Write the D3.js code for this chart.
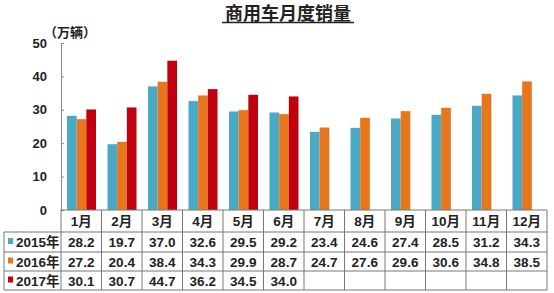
<!DOCTYPE html>
<html>
<head>
<meta charset="utf-8">
<script src="https://cdn.jsdelivr.net/npm/d3@7"></script>
<style>
  body { margin: 0; background: #fff; }
  svg { display: block; font-family: "Liberation Sans", Arial, "Noto Sans CJK SC", sans-serif; }
</style>
</head>
<body>
<div id="chart"></div>
<script>
var months = ['1月', '2月', '3月', '4月', '5月', '6月', '7月', '8月', '9月', '10月', '11月', '12月'];
var seriesNames = ['2015年', '2016年', '2017年'];
var colors = ['#4aa9c5', '#e8761c', '#c0000e'];
var v2015 = [28.2, 19.7, 37.0, 32.6, 29.5, 29.2, 23.4, 24.6, 27.4, 28.5, 31.2, 34.3];
var v2016 = [27.2, 20.4, 38.4, 34.3, 29.9, 28.7, 24.7, 27.6, 29.6, 30.6, 34.8, 38.5];
var v2017 = [30.1, 30.7, 44.7, 36.2, 34.5, 34.0];
var yTicks = [0, 10, 20, 30, 40, 50];

var series = [v2015, v2016, v2017];
var width = 554, height = 293;
var plotLeft = 61, plotRight = 547, plotTop = 43, base = 210;
var rowY = [210, 232, 252, 271, 290];

var svg = d3.select('#chart').append('svg')
    .attr('width', width)
    .attr('height', height);

var x0 = d3.scaleBand().domain(months).range([plotLeft, plotRight]).padding(0);
var x1 = d3.scaleBand().domain([0, 1, 2]).range([6, 35]).padding(0);
var y = d3.scaleLinear().domain([0, 50]).range([base, plotTop]);

// title
svg.append('text')
    .attr('x', 288).attr('y', 20)
    .attr('text-anchor', 'middle')
    .attr('font-family', '"Noto Sans CJK SC", sans-serif')
    .attr('font-size', 18).attr('font-weight', 'bold')
    .attr('fill', '#222')
    .text('商用车月度销量');
svg.append('line')
    .attr('x1', 222).attr('x2', 354).attr('y1', 22.5).attr('y2', 22.5)
    .attr('stroke', '#222').attr('stroke-width', 1.6);

svg.append('text')
    .attr('x', 44).attr('y', 37)
    .attr('font-family', '"Noto Sans CJK SC", sans-serif')
    .attr('font-size', 13).attr('font-weight', 'bold')
    .attr('fill', '#222')
    .text('（万辆）');

// y axis
var yAxis = d3.axisLeft(y).tickValues(yTicks).tickSize(-3).tickPadding(14);
var ya = svg.append('g').attr('transform', 'translate(' + plotLeft + ',0)').call(yAxis);
ya.select('.domain').attr('stroke', '#888');
ya.selectAll('.tick line').attr('stroke', '#888');
ya.selectAll('.tick text')
    .attr('font-size', 13).attr('font-weight', 'bold')
    .attr('fill', '#222')
    .attr('font-family', '"Liberation Sans", Arial, sans-serif');

// bars
var groups = svg.append('g').selectAll('g')
    .data(months)
    .enter().append('g')
    .attr('transform', function(d) { return 'translate(' + x0(d) + ',0)'; });

groups.selectAll('rect')
    .data(function(d, i) {
      return series.map(function(s, k) { return {k: k, v: s[i]}; })
        .filter(function(e) { return e.v != null; });
    })
    .enter().append('rect')
    .attr('x', function(d) { return x1(d.k); })
    .attr('width', x1.bandwidth())
    .attr('y', function(d) { return y(d.v); })
    .attr('height', function(d) { return base - y(d.v); })
    .attr('fill', function(d) { return colors[d.k]; });

// data table
var tbl = svg.append('g').attr('stroke', '#777').attr('stroke-width', 1);
tbl.append('line').attr('x1', plotLeft).attr('x2', plotRight).attr('y1', rowY[0]).attr('y2', rowY[0]);
rowY.slice(1).forEach(function(ry) {
  tbl.append('line').attr('x1', 4).attr('x2', plotRight).attr('y1', ry).attr('y2', ry);
});
tbl.append('line').attr('x1', 4).attr('x2', 4).attr('y1', rowY[1]).attr('y2', rowY[4]);
months.forEach(function(m) {
  tbl.append('line').attr('x1', x0(m)).attr('x2', x0(m)).attr('y1', rowY[0]).attr('y2', rowY[4]);
});
tbl.append('line').attr('x1', plotRight).attr('x2', plotRight).attr('y1', rowY[0]).attr('y2', rowY[4]);

var txt = svg.append('g')
    .attr('font-size', 13.5).attr('font-weight', 'bold')
    .attr('fill', '#222').attr('text-anchor', 'middle');

months.forEach(function(m) {
  txt.append('text')
      .attr('x', x0(m) + x0.bandwidth() / 2)
      .attr('y', (rowY[0] + rowY[1]) / 2 + 5)
      .attr('font-family', '"Liberation Sans", "Noto Sans CJK SC", sans-serif')
      .text(m);
});

series.forEach(function(s, k) {
  var cy = (rowY[k + 1] + rowY[k + 2]) / 2 + 5;
  svg.append('rect')
      .attr('x', 8).attr('y', cy - 9)
      .attr('width', 5).attr('height', 6)
      .attr('fill', colors[k]);
  txt.append('text')
      .attr('x', 16).attr('y', cy)
      .attr('text-anchor', 'start')
      .attr('font-family', '"Liberation Sans", "Noto Sans CJK SC", sans-serif')
      .text(seriesNames[k]);
  s.forEach(function(v, i) {
    txt.append('text')
        .attr('x', x0(months[i]) + x0.bandwidth() / 2)
        .attr('y', cy)
        .text(v.toFixed(1));
  });
});
</script>
</body>
</html>
